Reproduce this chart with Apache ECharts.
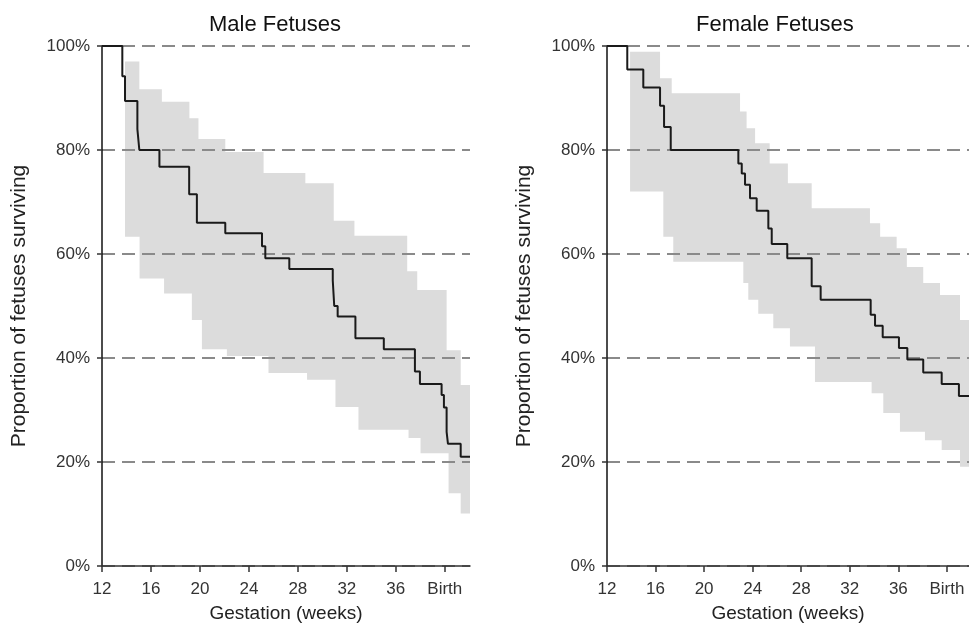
<!DOCTYPE html>
<html>
<head>
<meta charset="utf-8">
<script src="https://cdn.jsdelivr.net/npm/echarts@6/dist/echarts.min.js"></script>
<style>
  html, body { margin: 0; padding: 0; background: #fff; }
  #chart { width: 969px; height: 624px; }
</style>
</head>
<body>
<div id="chart"></div>
<script>
// Kaplan-Meier survival of fetuses, male vs female

const weekTicks = [12, 16, 20, 24, 28, 32, 36, 40];
const percentTicks = [0, 20, 40, 60, 80, 100];

// male: survival curve (week where the step starts, value after the step)
const maleWeeks = [12, 13.66, 13.88, 14.89, 15.05, 16.69, 19.12, 19.75, 22.07, 25.07, 25.34, 27.3, 30.85, 30.97, 31.25, 32.7, 35.02, 37.56, 37.97, 39.74, 39.93, 40.15, 40.26, 41.3, 42.06];
const maleSurv = [100, 94.2, 89.4, 84, 80, 76.8, 71.5, 66, 64, 61.5, 59.2, 57.1, 54.9, 50, 48, 43.8, 41.7, 37.4, 35, 32.9, 30.5, 25.8, 23.5, 21, 21];
// male: confidence band
const maleUpWeeks = [13.88, 15.05, 16.89, 19.14, 19.88, 22.07, 25.2, 28.61, 30.93, 32.62, 36.93, 37.75, 40.15, 41.3];
const maleUpVals = [97, 91.7, 89.3, 86.1, 82.1, 79.6, 75.6, 73.6, 66.4, 63.5, 56.7, 53.1, 41.5, 34.8];
const maleLoWeeks = [13.88, 15.07, 17.07, 19.34, 20.16, 22.2, 25.6, 28.75, 31.07, 32.95, 37.04, 38.02, 40.31, 41.3];
const maleLoVals = [63.3, 55.3, 52.4, 47.3, 41.7, 40.4, 37.1, 35.8, 30.6, 26.2, 24.6, 21.7, 14, 10.1];
const maleEnd = 42.06;

// female: survival curve
const femWeeks = [12, 13.67, 14.99, 16.37, 16.7, 17.25, 22.82, 23.1, 23.37, 23.78, 24.33, 25.29, 25.57, 26.85, 28.86, 29.6, 33.72, 34.08, 34.71, 36.05, 36.74, 38.05, 39.57, 40.99, 41.82];
const femSurv = [100, 95.5, 92, 88.5, 84.4, 80, 77.4, 75.5, 73.3, 70.7, 68.3, 64.9, 61.9, 59.2, 53.8, 51.2, 48.3, 46.2, 44, 41.9, 39.7, 37.2, 35, 32.7, 32.7];
// female: confidence band
const femUpWeeks = [13.9, 16.37, 17.33, 22.96, 23.5, 24.2, 25.4, 26.9, 28.86, 33.66, 34.5, 35.86, 36.7, 38.05, 39.43, 41.08];
const femUpVals = [98.9, 93.8, 90.9, 87.4, 84.2, 81.3, 77.4, 73.6, 68.8, 65.9, 63.3, 61.1, 57.5, 54.4, 52.1, 47.3];
const femLoWeeks = [13.9, 16.64, 17.46, 23.23, 23.64, 24.46, 25.7, 27.07, 29.13, 33.8, 34.76, 36.13, 38.19, 39.57, 41.08];
const femLoVals = [72, 63.3, 58.5, 54.4, 51.2, 48.5, 45.7, 42.2, 35.4, 33.2, 29.4, 25.8, 24.2, 22.3, 19.1];
const femEnd = 41.82;

const FONT = 'Liberation Sans, Arial, sans-serif';

function zip(xs, ys) {
    return xs.map((x, i) => [x, ys[i]]);
}

// step outline: upper edge left->right, lower edge right->left
function bandOutline(upX, upY, loX, loY, end) {
    const pts = [];
    upX.forEach((x, i) => {
        const next = i < upX.length - 1 ? upX[i + 1] : end;
        pts.push([x, upY[i]], [next, upY[i]]);
    });
    for (let i = loX.length - 1; i >= 0; i--) {
        const next = i < loX.length - 1 ? loX[i + 1] : end;
        pts.push([next, loY[i]], [loX[i], loY[i]]);
    }
    return pts;
}

const maleBand = bandOutline(maleUpWeeks, maleUpVals, maleLoWeeks, maleLoVals, maleEnd);
const femBand = bandOutline(femUpWeeks, femUpVals, femLoWeeks, femLoVals, femEnd);

function xAxisFor(idx, max) {
    return {
        type: 'value', gridIndex: idx, min: 12, max: max, interval: 4, z: 3,
        name: 'Gestation (weeks)', nameLocation: 'middle', nameGap: 38,
        nameTextStyle: { fontSize: 19, color: '#222', fontFamily: FONT },
        axisLine: { show: true, lineStyle: { color: '#333', width: 1.5 } },
        axisTick: { show: true, length: 6, customValues: weekTicks, lineStyle: { color: '#333', width: 1.5 } },
        axisLabel: {
            customValues: weekTicks, margin: 15, fontSize: 17, color: '#333', fontFamily: FONT,
            formatter: v => (v === 40 ? 'Birth' : String(v))
        },
        splitLine: { show: false }
    };
}

function yAxisFor(idx) {
    return {
        type: 'value', gridIndex: idx, min: 0, max: 100, interval: 20, z: 3,
        name: 'Proportion of fetuses surviving', nameLocation: 'middle', nameGap: 72,
        nameTextStyle: { fontSize: 21, color: '#222', fontFamily: FONT },
        axisLine: { show: true, lineStyle: { color: '#111', width: 1.5 } },
        axisTick: { show: true, length: 5, lineStyle: { color: '#333', width: 1.5 } },
        axisLabel: { formatter: '{value}%', margin: 12, fontSize: 17, color: '#333', fontFamily: FONT },
        splitLine: { show: true, lineStyle: { color: '#8a8a8a', width: 2, type: [13, 7] } }
    };
}

function bandSeries(idx, pts) {
    return {
        type: 'custom', xAxisIndex: idx, yAxisIndex: idx, z: 1, silent: true,
        data: [[12, 0]],
        renderItem: (params, api) => ({
            type: 'polygon',
            shape: { points: pts.map(p => api.coord(p)) },
            style: { fill: '#dcdcdc', stroke: null }
        })
    };
}

function curveSeries(idx, xs, ys) {
    return {
        type: 'line', xAxisIndex: idx, yAxisIndex: idx, z: 5, step: 'end',
        data: zip(xs, ys), symbol: 'none', silent: true,
        lineStyle: { color: '#1a1a1a', width: 2 }
    };
}

const chart = echarts.init(document.getElementById('chart'), null, { renderer: 'canvas' });

const option = {
    animation: false,
    backgroundColor: '#fff',
    title: [
        { text: 'Male Fetuses', left: 204, top: 9, textStyle: { fontSize: 22, fontWeight: 'normal', color: '#111', fontFamily: FONT } },
        { text: 'Female Fetuses', left: 691, top: 9, textStyle: { fontSize: 22, fontWeight: 'normal', color: '#111', fontFamily: FONT } }
    ],
    grid: [
        { left: 102, top: 46, width: 368, height: 520, outerBoundsMode: 'none', containLabel: false },
        { left: 607, top: 46, width: 362, height: 520, outerBoundsMode: 'none', containLabel: false }
    ],
    xAxis: [xAxisFor(0, maleEnd), xAxisFor(1, femEnd)],
    yAxis: [yAxisFor(0), yAxisFor(1)],
    series: [
        bandSeries(0, maleBand),
        curveSeries(0, maleWeeks, maleSurv),
        bandSeries(1, femBand),
        curveSeries(1, femWeeks, femSurv)
    ]
};

chart.setOption(option);

window.addEventListener('resize', () => {
    chart.resize();
});
</script>
</body>
</html>
